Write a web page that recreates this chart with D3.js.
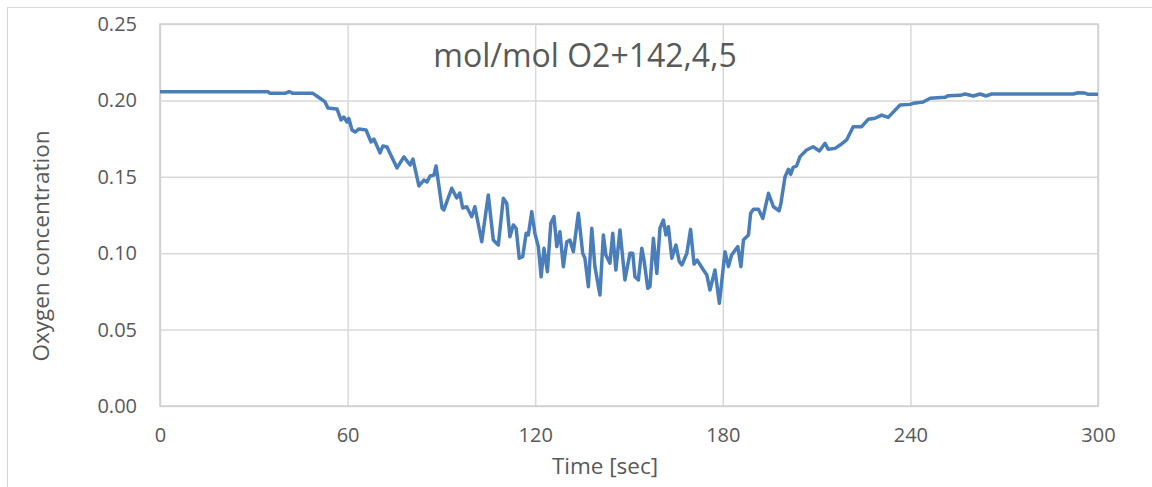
<!DOCTYPE html>
<html>
<head>
<meta charset="utf-8">
<script src="https://cdn.jsdelivr.net/npm/d3@7"></script>
<style>
    body { margin: 0; background: #fff; }
    text { font-family: "Open Sans", "DejaVu Sans", sans-serif; fill: #595959; }
</style>
</head>
<body>
<div id="chart"></div>
<script>
// Temps (s) et concentration
const times = [0, 34.5, 35.2, 40.0, 41.3, 42.5, 48.9, 51.5, 52.8, 53.7, 56.6, 57.9, 58.8, 59.8, 60.4,
    61.4, 62.4, 63.6, 65.9, 67.5, 68.4, 70.4, 71.3, 72.6, 75.8, 78.0, 80.0, 80.9, 82.8, 84.4, 85.4,
    86.4, 87.6, 88.3, 90.2, 90.8, 93.3, 94.9, 95.9, 96.8, 98.1, 99.7, 100.7, 102.9, 105.0, 106.6,
    108.2, 109.8, 110.9, 111.9, 113.0, 113.9, 114.9, 116.0, 117.1, 117.8, 118.9, 119.9, 121.0, 121.9,
    122.8, 123.9, 125.0, 126.0, 126.9, 127.9, 129.0, 130.1, 131.1, 132.2, 133.8, 135.2, 135.9, 137.0,
    138.1, 139.1, 140.7, 141.8, 142.6, 143.9, 144.8, 145.8, 147.1, 148.7, 150.3, 151.2, 151.9, 153.0,
    154.1, 154.8, 156.0, 156.7, 157.8, 158.9, 159.9, 161.0, 161.8, 162.6, 163.7, 165.0, 166.1, 166.9,
    168.5, 169.7, 170.8, 171.8, 173.8, 174.9, 175.9, 177.5, 178.9, 180.7, 181.8, 182.8, 184.8, 185.8,
    186.6, 188.2, 188.9, 189.8, 191.4, 192.8, 194.6, 196.2, 198.0, 198.6, 199.9, 201.0, 201.7, 202.5,
    203.6, 204.7, 206.8, 208.9, 210.9, 212.7, 213.7, 215.9, 217.5, 219.6, 221.7, 224.4, 226.5, 228.7,
    230.8, 232.9, 236.7, 239.9, 240.9, 244.1, 246.3, 251.1, 252.1, 255.9, 257.5, 260.1, 262.3, 264.2,
    266.0, 292.1, 293.7, 295.8, 296.9, 300];
const oxygen = [0.2057, 0.2057, 0.2046, 0.2046, 0.2058, 0.2046, 0.2046, 0.2009, 0.1990, 0.1950, 0.1944,
    0.1872, 0.1891, 0.1859, 0.1882, 0.1806, 0.1793, 0.1813, 0.1806, 0.1728, 0.1747, 0.1656, 0.1702,
    0.1695, 0.1558, 0.1630, 0.1577, 0.1616, 0.1440, 0.1479, 0.1466, 0.1505, 0.1512, 0.1571, 0.1296,
    0.1283, 0.1425, 0.1361, 0.1394, 0.1296, 0.1304, 0.1239, 0.1304, 0.1075, 0.1381, 0.1086, 0.1054,
    0.1359, 0.1327, 0.1108, 0.1185, 0.1163, 0.0967, 0.0977, 0.1130, 0.1119, 0.1272, 0.1130, 0.1043,
    0.0846, 0.1032, 0.0879, 0.1196, 0.1239, 0.1043, 0.1141, 0.0912, 0.1075, 0.1086, 0.1010, 0.1261,
    0.0999, 0.0967, 0.0781, 0.1163, 0.0912, 0.0726, 0.1119, 0.0988, 0.0934, 0.1130, 0.0890, 0.1152,
    0.0825, 0.0999, 0.0999, 0.0846, 0.0825, 0.1032, 0.0955, 0.0770, 0.0781, 0.1097, 0.0868, 0.1163,
    0.1217, 0.1119, 0.1173, 0.0967, 0.1054, 0.0944, 0.0923, 0.0999, 0.1156, 0.0929, 0.0955, 0.0890,
    0.0857, 0.0759, 0.0890, 0.0672, 0.1010, 0.0912, 0.0988, 0.1043, 0.0912, 0.1086, 0.1119, 0.1261,
    0.1287, 0.1287, 0.1228, 0.1392, 0.1304, 0.1278, 0.1327, 0.1501, 0.1549, 0.1516, 0.1562, 0.1571,
    0.1632, 0.1675, 0.1697, 0.1669, 0.1719, 0.1680, 0.1686, 0.1708, 0.1741, 0.1828, 0.1828, 0.1876,
    0.1883, 0.1904, 0.1889, 0.1970, 0.1974, 0.1981, 0.1990, 0.2014, 0.2020, 0.2031, 0.2033, 0.2042,
    0.2029, 0.2042, 0.2029, 0.2042, 0.2042, 0.2050, 0.2048, 0.2040, 0.2040];
const xTicks = [0, 60, 120, 180, 240, 300];
const yTicks = [0, 0.05, 0.10, 0.15, 0.20, 0.25];
const titleText = "mol/mol O2+142,4,5";
const xLabel = "Time [sec]";
const yLabel = "Oxygen concentration";

const W = 1152, H = 487;
const margin = { top: 24, right: 54, bottom: 81, left: 160 };
const width = W - margin.left - margin.right;
const height = H - margin.top - margin.bottom;

const svg = d3.select("#chart").append("svg")
    .attr("width", W)
    .attr("height", H);

// cadre extérieur
svg.append("rect")
    .attr("x", 7.5).attr("y", 7.5)
    .attr("width", W).attr("height", H)
    .attr("fill", "none").attr("stroke", "#d9d9d9");

const g = svg.append("g").attr("transform", `translate(${margin.left},${margin.top})`);

const x = d3.scaleLinear().domain([0, 300]).range([0, width]);
const y = d3.scaleLinear().domain([0, 0.25]).range([height, 0]);

// grille
g.append("g")
    .call(d3.axisLeft(y).tickValues(yTicks).tickSize(-width).tickFormat(""))
    .call(a => a.select(".domain").remove())
    .call(a => a.selectAll("line").attr("stroke", "#d9d9d9").attr("stroke-width", 1.5));
g.append("g")
    .attr("transform", `translate(0,${height})`)
    .call(d3.axisBottom(x).tickValues(xTicks).tickSize(-height).tickFormat(""))
    .call(a => a.select(".domain").remove())
    .call(a => a.selectAll("line").attr("stroke", "#d9d9d9").attr("stroke-width", 1.5));

g.append("rect")
    .attr("width", width).attr("height", height)
    .attr("fill", "none").attr("stroke", "#d0d0d0").attr("stroke-width", 1.5);

// étiquettes des axes
g.append("g")
    .call(d3.axisLeft(y).tickValues(yTicks).tickSize(0).tickPadding(23).tickFormat(d3.format(".2f")))
    .call(a => a.select(".domain").remove())
    .call(a => a.selectAll("text").style("font-size", "20px").attr("fill", "#595959"));
g.append("g")
    .attr("transform", `translate(0,${height})`)
    .call(d3.axisBottom(x).tickValues(xTicks).tickSize(0).tickPadding(22))
    .call(a => a.select(".domain").remove())
    .call(a => a.selectAll("text").style("font-size", "20px").attr("fill", "#595959"));

// courbe
const line = d3.line()
    .x((d, i) => x(times[i]))
    .y(d => y(d));
g.append("path")
    .datum(oxygen)
    .attr("fill", "none")
    .attr("stroke", "#4a7ebb")
    .attr("stroke-width", 3.5)
    .attr("stroke-linejoin", "round")
    .attr("d", line);

svg.append("text")
    .attr("x", 585).attr("y", 67)
    .attr("text-anchor", "middle")
    .style("font-size", "32px")
    .text(titleText);

svg.append("text")
    .attr("x", 605).attr("y", 474)
    .attr("text-anchor", "middle")
    .style("font-size", "22.5px")
    .text(xLabel);

svg.append("text")
    .attr("transform", "translate(49,246) rotate(-90)")
    .attr("text-anchor", "middle")
    .style("font-size", "22.5px")
    .text(yLabel);
</script>
</body>
</html>
